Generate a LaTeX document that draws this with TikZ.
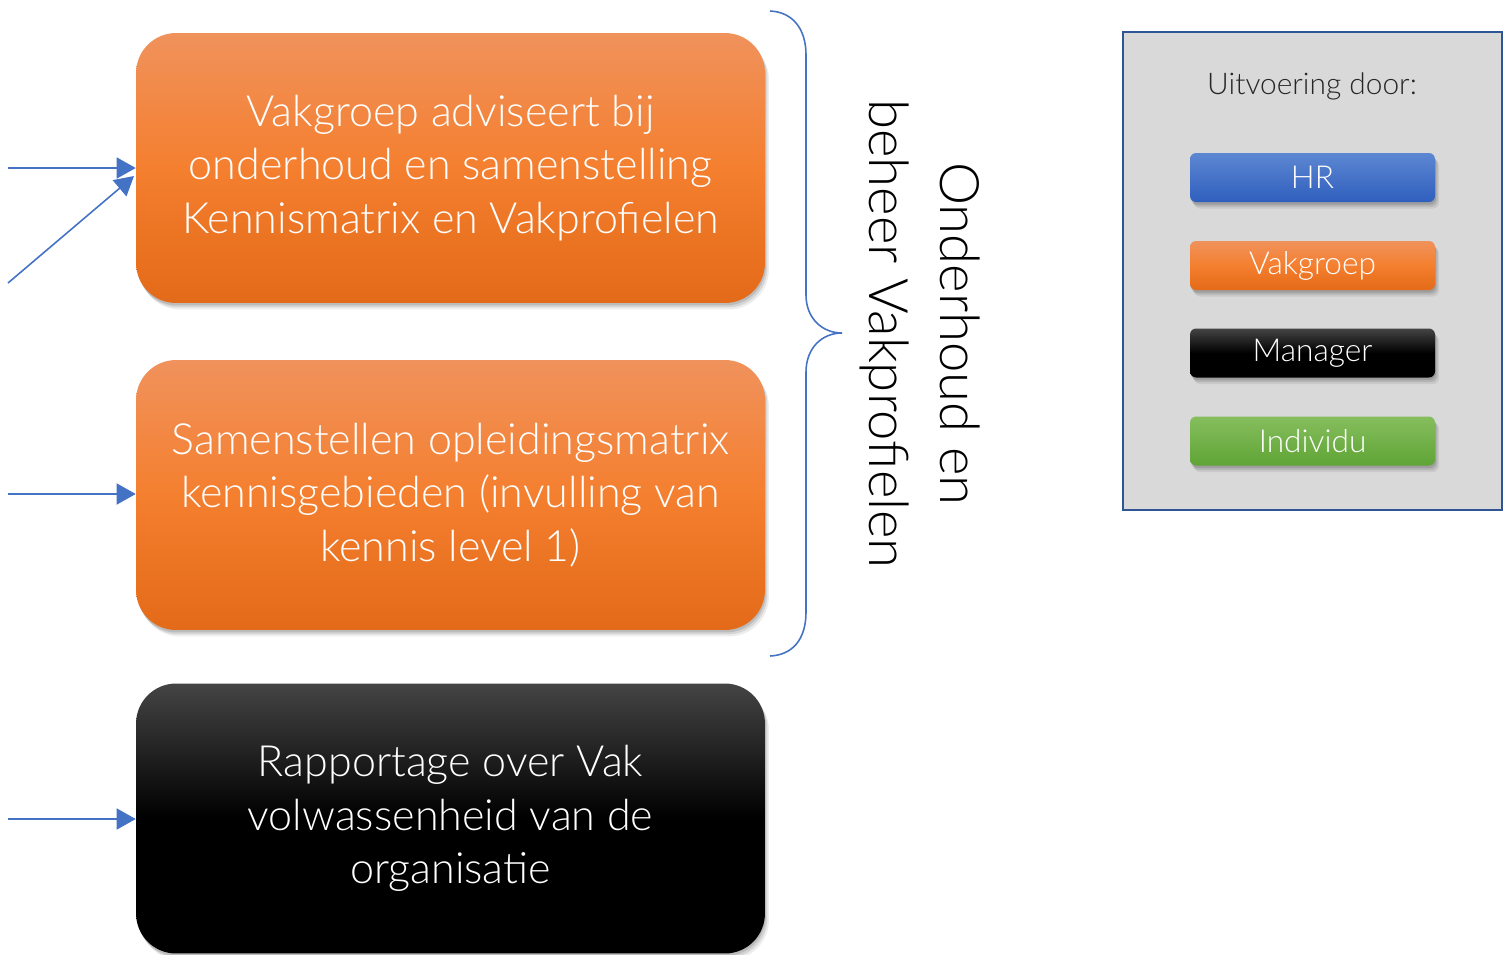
\documentclass[tikz,border=0pt]{standalone}
\usepackage{fontspec}
\setmainfont{Lato Light}
\usetikzlibrary{arrows.meta,shadows}
\definecolor{orTop}{HTML}{F0925C}
\definecolor{orMid}{HTML}{F47F2F}
\definecolor{orBot}{HTML}{E36A18}
\definecolor{blTop}{HTML}{5D87D2}
\definecolor{blBot}{HTML}{2F5FBE}
\definecolor{grTop}{HTML}{86BE5E}
\definecolor{grBot}{HTML}{5FA435}
\definecolor{bkTop}{HTML}{444444}
\definecolor{arrowblue}{HTML}{4472C4}
\definecolor{frameblue}{HTML}{2F5597}
\definecolor{legendgray}{HTML}{D9D9D9}
\tikzset{
  softshadow/.style={
    drop shadow={shadow xshift=0.02cm, shadow yshift=-0.05cm, opacity=0.12, fill=black},
    drop shadow={shadow xshift=0.05cm, shadow yshift=-0.09cm, opacity=0.10, fill=black},
    drop shadow={shadow xshift=0.08cm, shadow yshift=-0.13cm, opacity=0.07, fill=black}},
  bigbox/.style={rounded corners=0.8cm, minimum width=12.58cm, minimum height=5.4cm,
    align=center, text=white, font=\fontsize{24.5}{30.5}\selectfont, inner sep=0pt, softshadow,
    execute at begin node={\rule{0pt}{24pt}}},
  orangebox/.style={bigbox, top color=orTop, bottom color=orBot, middle color=orMid},
  blackbox/.style={bigbox, top color=bkTop, bottom color=black, middle color=black},
  smallbox/.style={rounded corners=0.12cm, minimum width=4.9cm, minimum height=0.98cm,
    inner sep=0pt, text=white, font=\fontsize{18}{20}\selectfont, softshadow},
  flow/.style={draw=arrowblue, line width=0.9pt, -{Triangle[length=0.38cm, width=0.42cm]}},
  brace/.style={draw=arrowblue, line width=0.9pt}
}
\begin{document}
\begin{tikzpicture}[x=0.02cm,y=-0.02cm]
\useasboundingbox (0,0) rectangle (1506,954);

% main boxes
\node[orangebox] (b1) at (450.5,168) {Vakgroep adviseert bij\\onderhoud en samenstelling\\Kennismatrix en Vakprofielen};
\node[orangebox] (b2) at (450.5,495) {Samenstellen opleidingsmatrix\\kennisgebieden (invulling van\\kennis level 1)};
\node[blackbox] (b3) at (450.5,818.5) {Rapportage over Vak\\volwassenheid van de\\organisatie};

% incoming arrows
\coordinate (s1) at (8,168);
\coordinate (s1b) at (8,283);
\coordinate (s2) at (8,494);
\coordinate (s3) at (8,819);
\coordinate (t1b) at (134,176);
\draw[flow] (s1) -- (b1.west |- s1);
\draw[flow] (s1b) -- (t1b);
\draw[flow] (s2) -- (b2.west |- s2);
\draw[flow] (s3) -- (b3.west |- s3);

% brace
\coordinate (brTop) at (770,11);
\coordinate (brTip) at (842,333);
\coordinate (brBot) at (770,656);
\draw[brace] (brTop) .. controls (792,12) and (806,28) .. (806,55)
  -- (806,295) .. controls (806,318) and (822,333) .. (brTip)
  .. controls (822,333) and (806,348) .. (806,372)
  -- (806,612) .. controls (806,640) and (792,655) .. (brBot);

% rotated label
\node[rotate=-90, align=center, font=\fontsize{31}{40}\selectfont, inner sep=0pt] (lbl) at (920,334)
  {Onderhoud en\\beheer Vakprofielen};

% legend
\node[draw=frameblue, line width=1.6pt, fill=legendgray, minimum width=7.58cm, minimum height=9.56cm, inner sep=0pt] (leg) at (1312.5,271) {};
\node[font=\fontsize{17}{20}\selectfont, text=black!85, inner sep=0pt] (legt) at (1312,86) {Uitvoering door:};
\node[smallbox, top color=blTop, bottom color=blBot] (hr) at (1312.5,177.5) {HR};
\node[smallbox, top color=orTop, bottom color=orBot, middle color=orMid] (vg) at (1312.5,265.5) {Vakgroep};
\node[smallbox, top color=bkTop, bottom color=black, middle color=black] (mg) at (1312.5,353) {Manager};
\node[smallbox, top color=grTop, bottom color=grBot] (ind) at (1312.5,441) {Individu};
\end{tikzpicture}
\end{document}
